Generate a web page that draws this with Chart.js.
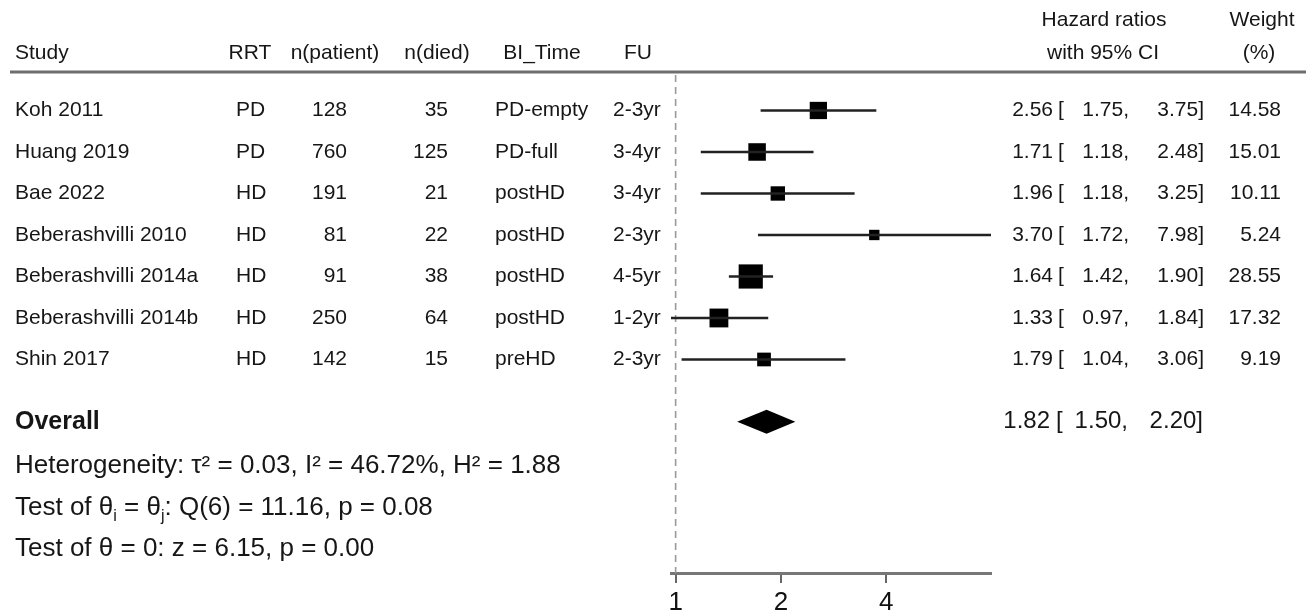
<!DOCTYPE html>
<html>
<head>
<meta charset="utf-8">
<script src="https://cdn.jsdelivr.net/npm/chart.js@4.4.0/dist/chart.umd.min.js"></script>
<style>
  body { margin: 0; background: #fff; }
  #wrap { width: 1310px; height: 615px; }
</style>
</head>
<body>
<div id="wrap"><canvas id="forest"></canvas></div>
<script>
// study table
var studies = ['Koh 2011', 'Huang 2019', 'Bae 2022', 'Beberashvilli 2010', 'Beberashvilli 2014a', 'Beberashvilli 2014b', 'Shin 2017'];
var rrt = ['PD', 'PD', 'HD', 'HD', 'HD', 'HD', 'HD'];
var nPatient = [128, 760, 191, 81, 91, 250, 142];
var nDied = [35, 125, 21, 22, 38, 64, 15];
var biTime = ['PD-empty', 'PD-full', 'postHD', 'postHD', 'postHD', 'postHD', 'preHD'];
var followUp = ['2-3yr', '3-4yr', '3-4yr', '2-3yr', '4-5yr', '1-2yr', '2-3yr'];
var hr = [2.56, 1.71, 1.96, 3.70, 1.64, 1.33, 1.79];
var ciLow = [1.75, 1.18, 1.18, 1.72, 1.42, 0.97, 1.04];
var ciHigh = [3.75, 2.48, 3.25, 7.98, 1.90, 1.84, 3.06];
var weight = [14.58, 15.01, 10.11, 5.24, 28.55, 17.32, 9.19];
var overallHR = [1.82, 1.50, 2.20]; // estimate, low, high
var xTicks = [1, 2, 4];
var heterogeneity = 'Heterogeneity: τ² = 0.03, I² = 46.72%, H² = 1.88';
var testQ = [['Test of θ', 0], ['i', 1], [' = θ', 0], ['j', 1], [': Q(6) = 11.16, p = 0.08', 0]];
var testZ = 'Test of θ = 0: z = 6.15, p = 0.00';

var FONT = "'Liberation Sans', Arial, Helvetica, sans-serif";
var INK = '#161616';
var OVERALL_ROW = 7.5;

function fmt(v) { return v.toFixed(2); }

var ctx = document.getElementById('forest').getContext('2d');

var datasets = studies.map(function (s, i) {
  return {
    type: 'scatter',
    showLine: true,
    data: [{ x: ciLow[i], y: i }, { x: ciHigh[i], y: i }],
    borderColor: '#222',
    borderWidth: 2.4,
    pointRadius: 0,
    clip: false
  };
});
datasets.push({
  type: 'scatter',
  data: hr.map(function (v, i) { return { x: v, y: i }; }),
  pointStyle: 'rect',
  pointRadius: weight.map(function (w) { return 3.2 * Math.sqrt(w); }),
  backgroundColor: '#000',
  borderColor: '#000',
  borderWidth: 0,
  clip: false
});

function txt(c, s, x, y, align, size, bold) {
  c.font = (bold ? 'bold ' : '') + size + 'px ' + FONT;
  c.textAlign = align;
  c.fillText(s, x, y);
}

var forestPlugin = {
  id: 'forestText',
  beforeDatasetsDraw: function (chart) {
    var c = chart.ctx, xs = chart.scales.x, a = chart.chartArea;
    c.save();
    // reference line at HR = 1
    c.strokeStyle = '#9a9a9a';
    c.lineWidth = 1.6;
    c.setLineDash([7, 5]);
    c.beginPath();
    var x1 = xs.getPixelForValue(1);
    c.moveTo(x1, a.top);
    c.lineTo(x1, a.bottom);
    c.stroke();
    c.setLineDash([]);
    // header rule
    c.strokeStyle = '#6e6e6e';
    c.lineWidth = 3;
    c.beginPath();
    c.moveTo(10, 72);
    c.lineTo(1306, 72);
    c.stroke();
    c.restore();
  },
  afterDatasetsDraw: function (chart) {
    var c = chart.ctx, xs = chart.scales.x, ys = chart.scales.y;
    c.save();
    c.textBaseline = 'middle';

    // overall diamond
    var yo = ys.getPixelForValue(OVERALL_ROW);
    var h = 12;
    c.fillStyle = '#000';
    c.beginPath();
    c.moveTo(xs.getPixelForValue(overallHR[1]), yo);
    c.lineTo(xs.getPixelForValue(overallHR[0]), yo - h);
    c.lineTo(xs.getPixelForValue(overallHR[2]), yo);
    c.lineTo(xs.getPixelForValue(overallHR[0]), yo + h);
    c.closePath();
    c.fill();
    c.fillStyle = INK;

    // headers
    var hs = 21;
    txt(c, 'Study', 15, 53, 'left', hs);
    txt(c, 'RRT', 250, 53, 'center', hs);
    txt(c, 'n(patient)', 335, 53, 'center', hs);
    txt(c, 'n(died)', 437, 53, 'center', hs);
    txt(c, 'BI_Time', 542, 53, 'center', hs);
    txt(c, 'FU', 638, 53, 'center', hs);
    txt(c, 'Hazard ratios', 1104, 20, 'center', hs);
    txt(c, 'with 95% CI', 1103, 53, 'center', hs);
    txt(c, 'Weight', 1262, 20, 'center', hs);
    txt(c, '(%)', 1259, 53, 'center', hs);

    // study rows
    studies.forEach(function (s, i) {
      var y = ys.getPixelForValue(i);
      txt(c, s, 15, y, 'left', hs);
      txt(c, rrt[i], 236, y, 'left', hs);
      txt(c, String(nPatient[i]), 347, y, 'right', hs);
      txt(c, String(nDied[i]), 448, y, 'right', hs);
      txt(c, biTime[i], 495, y, 'left', hs);
      txt(c, followUp[i], 613, y, 'left', hs);
      txt(c, fmt(hr[i]), 1053, y, 'right', hs);
      txt(c, '[', 1058, y, 'left', hs);
      txt(c, fmt(ciLow[i]) + ',', 1129, y, 'right', hs);
      txt(c, fmt(ciHigh[i]) + ']', 1204, y, 'right', hs);
      txt(c, fmt(weight[i]), 1281, y, 'right', hs);
    });

    // overall row
    var bs = 26;
    txt(c, 'Overall', 15, yo, 'left', 25, true);
    txt(c, fmt(overallHR[0]), 1050, yo, 'right', 24);
    txt(c, '[', 1056, yo, 'left', 24);
    txt(c, fmt(overallHR[1]) + ',', 1128, yo, 'right', 24);
    txt(c, fmt(overallHR[2]) + ']', 1203, yo, 'right', 24);

    // statistics
    txt(c, heterogeneity, 15, ys.getPixelForValue(8.57), 'left', bs);
    var yq = ys.getPixelForValue(9.58), xq = 15;
    testQ.forEach(function (part) {
      var size = part[1] ? 16 : bs;
      c.font = size + 'px ' + FONT;
      c.textAlign = 'left';
      c.fillText(part[0], xq, yq + (part[1] ? 9 : 0));
      xq += c.measureText(part[0]).width;
    });
    txt(c, testZ, 15, ys.getPixelForValue(10.57), 'left', bs);
    c.restore();
  }
};

new Chart(ctx, {
  type: 'scatter',
  data: { datasets: datasets },
  plugins: [forestPlugin],
  options: {
    responsive: true,
    maintainAspectRatio: false,
    animation: false,
    layout: { padding: { left: 671, right: 319, top: 75, bottom: 0 } },
    plugins: { legend: { display: false }, tooltip: { enabled: false } },
    scales: {
      x: {
        type: 'logarithmic',
        min: Math.min.apply(null, ciLow),
        max: Math.max.apply(null, ciHigh),
        afterBuildTicks: function (scale) {
          scale.ticks = xTicks.map(function (v) { return { value: v }; });
        },
        afterFit: function (scale) { scale.height = 42; },
        ticks: {
          autoSkip: false,
          maxRotation: 0,
          padding: 4,
          color: '#111',
          font: { family: FONT, size: 26 },
          callback: function (v) { return String(v); }
        },
        grid: { drawOnChartArea: false, drawTicks: true, tickLength: 10, color: '#666', lineWidth: 2 },
        border: { display: true, color: '#777', width: 3 }
      },
      y: {
        type: 'linear',
        display: false,
        reverse: true,
        min: -0.855,
        max: 11.145
      }
    }
  }
});
</script>
</body>
</html>
